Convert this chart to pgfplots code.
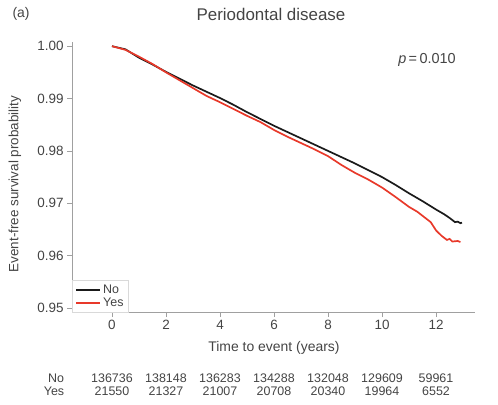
\documentclass[border=0pt]{standalone}
\usepackage{pgfplots}
\pgfplotsset{compat=1.18}
\usepackage{fontspec}
\setmainfont{Liberation Sans}
\definecolor{kmred}{HTML}{E8392A}
\definecolor{kmblack}{HTML}{1A1A1A}
\definecolor{axgray}{HTML}{A0A0A0}
\definecolor{txtgray}{HTML}{444444}
\begin{document}
\begin{tikzpicture}[x=1bp,y=1bp]
\path[use as bounding box] (0,0) rectangle (498,404);
\begin{axis}[
  at={(72bp,92bp)}, anchor=south west,
  scale only axis, width=403bp, height=270bp,
  xmin=-1.48, xmax=13.44, ymin=0.94924, ymax=1.0008,
  axis lines=left, axis line style={-, axgray, line width=0.8pt},
  tick align=outside, major tick length=5bp,
  tick style={axgray, line width=0.8pt},
  xtick={0,2,4,6,8,10,12},
  ytick={0.95,0.96,0.97,0.98,0.99,1.00},
  yticklabel style={/pgf/number format/.cd, fixed, fixed zerofill, precision=2},
  /pgf/number format/assume math mode=true,
  ticklabel style={font=\fontsize{13.5}{15}\selectfont, text=txtgray},
  clip=false,
  legend style={at={(0,0)}, anchor=south west, draw=gray!30, fill=white,
    font=\fontsize{12.5}{14}\selectfont, text=txtgray, inner xsep=3pt, inner ysep=2pt,
    row sep=-1pt, line width=0.5pt},
  legend cell align=left,
  legend image code/.code={\draw[#1, line width=2pt] (0bp,0bp) -- (24bp,0bp);},
]
\addplot[kmblack, line width=1.7pt] coordinates {
(0,1.0000) (0.5,0.9994) (1,0.9978) (1.5,0.9965) (2,0.9951) (2.5,0.9938) (3,0.9925) (3.5,0.9913) (4,0.9901) (4.5,0.9888) (5,0.9874) (5.5,0.9861) (6,0.9848) (6.5,0.9836) (7,0.9824) (7.5,0.9812) (8,0.9800) (8.5,0.9788) (9,0.9776) (9.5,0.9763) (10,0.9750) (10.5,0.9735) (11,0.9719) (11.5,0.9704) (12,0.9688) (12.3,0.9679) (12.5,0.9672) (12.6,0.9668) (12.7,0.9664) (12.8,0.9665) (12.9,0.9662) (12.96,0.9663)
};
\addlegendentry{No}
\addplot[kmred, line width=1.7pt] coordinates {
(0,1.0000) (0.5,0.9993) (1,0.9980) (1.5,0.9966) (2,0.9950) (2.5,0.9935) (3,0.9920) (3.5,0.9905) (4,0.9893) (4.5,0.9880) (5,0.9867) (5.5,0.9855) (6,0.9840) (6.5,0.9827) (7,0.9815) (7.5,0.9803) (8,0.9790) (8.5,0.9773) (9,0.9758) (9.5,0.9745) (10,0.9730) (10.5,0.9712) (11,0.9693) (11.3,0.9684) (11.5,0.9676) (11.8,0.9664) (12,0.9648) (12.2,0.9638) (12.4,0.9630) (12.5,0.9632) (12.6,0.9627) (12.8,0.9628) (12.9,0.9626)
};
\addlegendentry{Yes}
\end{axis}
% titles and labels
\node[text=txtgray, font=\fontsize{14}{16}\selectfont, anchor=west] at (9,390) {(a)};
\node[text=txtgray, font=\fontsize{17}{19}\selectfont] at (271,390) {Periodontal disease};
\node[text=txtgray, font=\fontsize{14.5}{16}\selectfont] at (427,344) {\textit{p}\,=\,0.010};
\node[text=txtgray, font=\fontsize{13.5}{15}\selectfont, rotate=90] at (15,220) {Event-free survival probability};
\node[text=txtgray, font=\fontsize{14}{16}\selectfont] at (274,56) {Time to event (years)};
% number at risk
\begin{scope}[every node/.style={text=txtgray, font=\fontsize{12.5}{14}\selectfont}]
\node at (56,26) {No};
\node at (54,13) {Yes};
\node at (112,26) {136736}; \node at (166,26) {138148}; \node at (220,26) {136283};
\node at (274,26) {134288}; \node at (328,26) {132048}; \node at (382,26) {129609};
\node at (436,26) {59961};
\node at (112,13) {21550}; \node at (166,13) {21327}; \node at (220,13) {21007};
\node at (274,13) {20708}; \node at (328,13) {20340}; \node at (382,13) {19964};
\node at (436,13) {6552};
\end{scope}
\end{tikzpicture}
\end{document}
